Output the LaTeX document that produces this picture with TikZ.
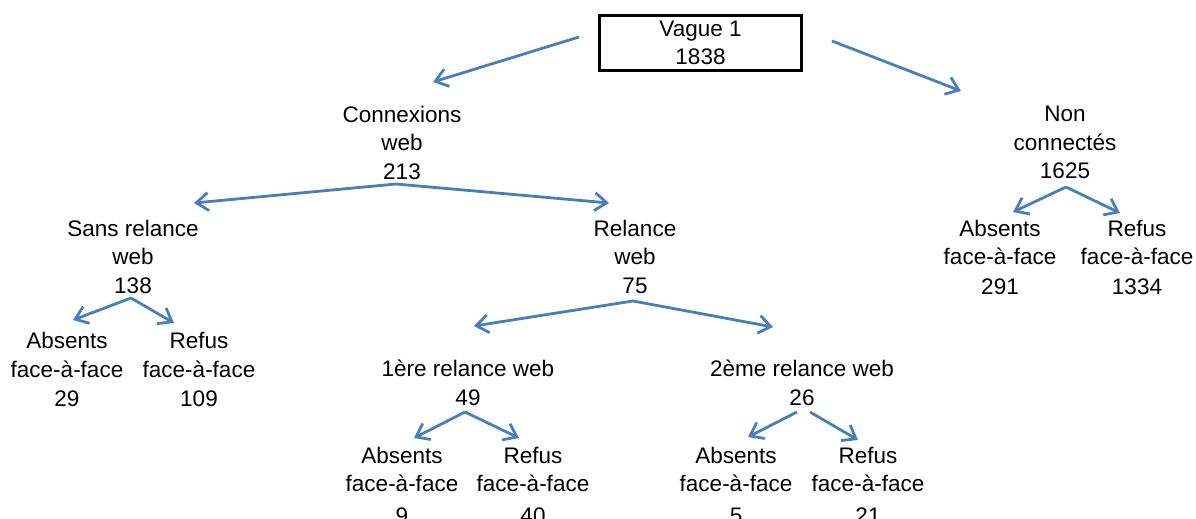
\documentclass[tikz,border=0pt]{standalone}
\usepackage{fontspec}
\setmainfont{Liberation Sans}
\usepackage{tikz}
\usetikzlibrary{arrows.meta}
\definecolor{bleu}{RGB}{74,126,187}

\begin{document}
\begin{tikzpicture}[x=1pt,y=-1pt,
    every node/.style={align=center, inner sep=0pt, font=\fontsize{22.5}{28.5}\selectfont},
    fleche/.style={draw=bleu, line width=2.8pt, -{Straight Barb[length=12pt,width=18pt]}}]
\useasboundingbox (0,0) rectangle (1196,519);

\node[draw, line width=3pt, minimum width=202pt, minimum height=55pt] (vague) at (700.5,43) {Vague 1\\1838};
\node (cnx) at (402,142.5) {Connexions\\web\\213};
\node (noncnx) at (1065,142.5) {Non\\connectés\\1625};
\node (sansrel) at (133,256.5) {Sans relance\\web\\138};
\node (rel) at (635,256.5) {Relance\\web\\75};
\node (abs0) at (1000,257) {Absents\\face-à-face\\[1pt]291};
\node (ref0) at (1137,257) {Refus\\face-à-face\\[1pt]1334};
\node (abs1) at (67,369.5) {Absents\\face-à-face\\[1pt]29};
\node (ref1) at (199,369.5) {Refus\\face-à-face\\[1pt]109};
\node (rel1) at (468,383) {1ère relance web\\49};
\node (rel2) at (802,383) {2ème relance web\\26};
\node (abs2) at (402,485) {Absents\\face-à-face\\[3pt]9};
\node (ref2) at (533,485) {Refus\\face-à-face\\[3pt]40};
\node (abs3) at (736,485) {Absents\\face-à-face\\[3pt]5};
\node (ref3) at (868,485) {Refus\\face-à-face\\[3pt]21};

% departs et pointes des fleches
\coordinate (vague-l) at (579,37);   \coordinate (vague-r) at (832,41);
\coordinate (cnx-in) at (433,82);    \coordinate (noncnx-in) at (961,91);
\coordinate (cnx-out) at (396,184);  \coordinate (noncnx-out) at (1066,187);
\coordinate (sansrel-in) at (194,203); \coordinate (rel-in) at (609,203);
\coordinate (abs0-in) at (1013,212); \coordinate (ref0-in) at (1120,213);
\coordinate (sansrel-out) at (131,298); \coordinate (rel-out) at (633,301);
\coordinate (abs1-in) at (73,320);   \coordinate (ref1-in) at (174,323);
\coordinate (rel1-in) at (474,326);  \coordinate (rel2-in) at (773,327);
\coordinate (rel1-out) at (465,412); \coordinate (rel2-l) at (797,412); \coordinate (rel2-r) at (810,412);
\coordinate (abs2-in) at (414,438);  \coordinate (ref2-in) at (519,438);
\coordinate (abs3-in) at (748,437);  \coordinate (ref3-in) at (858,440);

\foreach \u/\v in {vague-l/cnx-in,vague-r/noncnx-in,cnx-out/sansrel-in,cnx-out/rel-in} \draw[fleche] (\u) -- (\v);
\foreach \u/\v in {noncnx-out/abs0-in,noncnx-out/ref0-in,sansrel-out/abs1-in,sansrel-out/ref1-in} \draw[fleche] (\u) -- (\v);
\foreach \u/\v in {rel-out/rel1-in,rel-out/rel2-in,rel1-out/abs2-in,rel1-out/ref2-in,rel2-l/abs3-in,rel2-r/ref3-in} \draw[fleche] (\u) -- (\v);

\end{tikzpicture}
\end{document}
